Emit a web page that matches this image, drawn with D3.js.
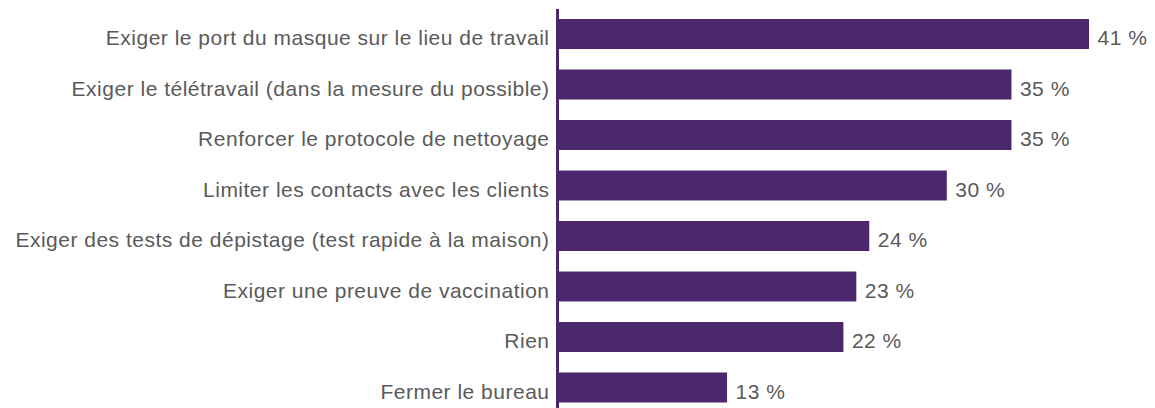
<!DOCTYPE html>
<html>
<head>
<meta charset="utf-8">
<script src="https://cdn.jsdelivr.net/npm/d3@7"></script>
<style>
  body { margin: 0; background: #fff; }
</style>
</head>
<body>
<div id="chart"></div>
<script>
const categories = [
  "Exiger le port du masque sur le lieu de travail",
  "Exiger le télétravail (dans la mesure du possible)",
  "Renforcer le protocole de nettoyage",
  "Limiter les contacts avec les clients",
  "Exiger des tests de dépistage (test rapide à la maison)",
  "Exiger une preuve de vaccination",
  "Rien",
  "Fermer le bureau"
];
const values = [41, 35, 35, 30, 24, 23, 22, 13];

const width = 1155;
const height = 408;
const x0 = 559;
const purple = "#4b286d";
const textColor = "#5a5a5a";
const fontFamily = "Liberation Sans, Arial, sans-serif";

const xScale = d3.scaleLinear()
    .domain([0, 41])
    .range([x0, 1089]);

const yScale = d3.scaleBand()
    .domain(categories)
    .range([8.75, 8.75 + 50.5 * categories.length])
    .paddingInner(0.406)
    .paddingOuter(0.203);

const svg = d3.select("#chart")
    .append("svg")
    .attr("width", width)
    .attr("height", height);

// bars
svg.selectAll("rect.bar")
    .data(values)
    .enter()
    .append("rect")
    .attr("class", "bar")
    .attr("x", xScale(0))
    .attr("y", (d, i) => yScale(categories[i]))
    .attr("width", d => xScale(d) - xScale(0))
    .attr("height", yScale.bandwidth())
    .attr("fill", purple);

// value labels
svg.selectAll("text.val")
    .data(values)
    .enter()
    .append("text")
    .attr("class", "val")
    .attr("x", d => xScale(d) + 8.5)
    .attr("y", (d, i) => yScale(categories[i]) + yScale.bandwidth() / 2)
    .attr("dy", 11)
    .attr("font-family", fontFamily)
    .attr("font-size", 21)
    .attr("letter-spacing", 0.5)
    .attr("fill", textColor)
    .text(d => d + " %");

// y axis (category labels)
const yAxis = svg.append("g")
    .attr("transform", `translate(${x0 - 1.5}, 0)`)
    .call(d3.axisLeft(yScale).tickSize(0).tickPadding(8));

yAxis.select(".domain").remove();
yAxis.selectAll("text")
    .attr("dy", 11)
    .attr("font-family", fontFamily)
    .attr("font-size", 21)
    .attr("letter-spacing", 0.5)
    .attr("fill", textColor);

svg.append("line")
    .attr("x1", x0 - 1.5).attr("x2", x0 - 1.5)
    .attr("y1", 9).attr("y2", height)
    .attr("stroke", purple)
    .attr("stroke-width", 3);
</script>
</body>
</html>
